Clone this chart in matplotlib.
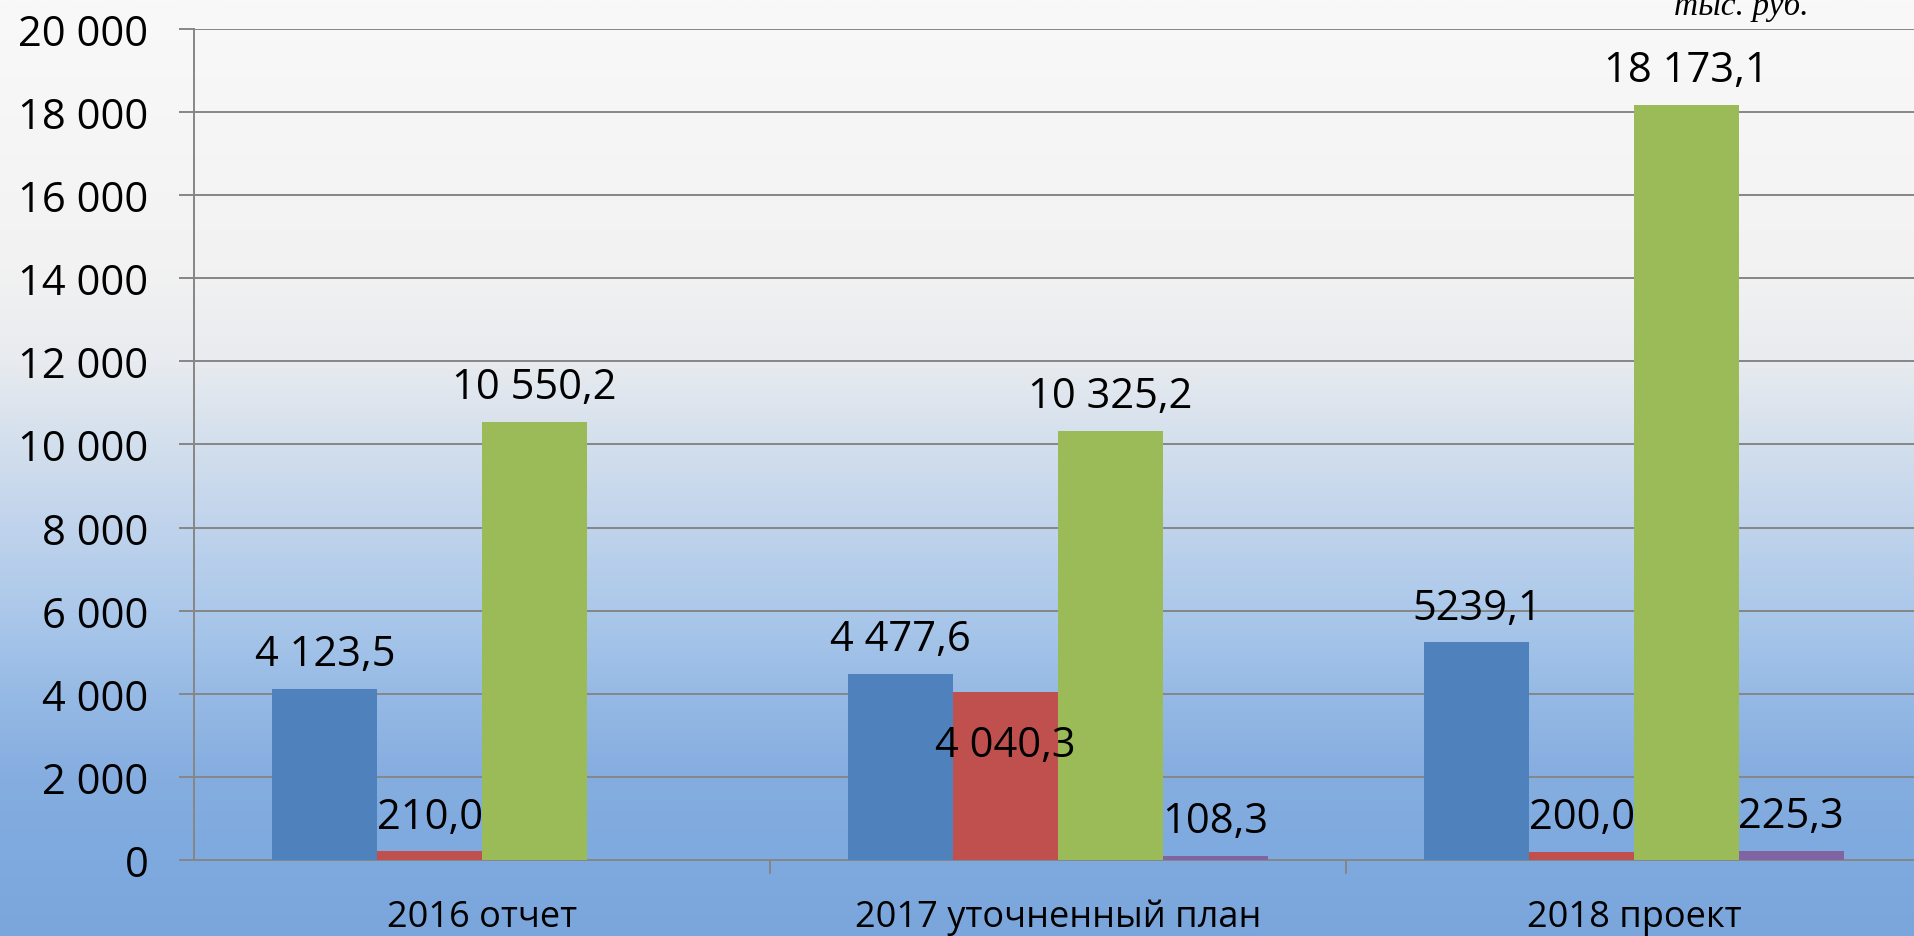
import numpy as np
import matplotlib
matplotlib.use("Agg")
import matplotlib.pyplot as plt
from matplotlib.colors import LinearSegmentedColormap

plt.rcParams['font.family'] = ['Open Sans', 'DejaVu Sans']

categories = ['2016 отчет', '2017 уточненный план', '2018 проект']
series_blue = [4123.5, 4477.6, 5239.1]
series_red = [210.0, 4040.3, 200.0]
series_green = [10550.2, 10325.2, 18173.1]
series_purple = [0.0, 108.3, 225.3]
labels_blue = ['4 123,5', '4 477,6', '5239,1']
labels_red = ['210,0', '4 040,3', '200,0']
labels_green = ['10 550,2', '10 325,2', '18 173,1']
labels_purple = [None, '108,3', '225,3']
yticks = [0, 2000, 4000, 6000, 8000, 10000, 12000, 14000, 16000, 18000, 20000]
ytick_labels = ['0', '2 000', '4 000', '6 000', '8 000', '10 000', '12 000',
                '14 000', '16 000', '18 000', '20 000']
unit_label = 'тыс. руб.'

colors = ['#4f81bd', '#c0504d', '#9bbb59', '#8064a2']
W, H = 1915, 937
fig = plt.figure(figsize=(W / 100, H / 100), dpi=100)

# background gradient
stops = [(0.0, '#f9f9f9'), (270 / H, '#f2f2f2'), (362 / H, '#e8ebef'),
         (445 / H, '#d3dfed'), (529 / H, '#c0d3ec'), (612 / H, '#abc8ea'),
         (696 / H, '#96bae5'), (779 / H, '#85ade0'), (861 / H, '#7eaadf'),
         (1.0, '#7aa6dc')]
cmap = LinearSegmentedColormap.from_list('bg', stops)
bg = fig.add_axes([0, 0, 1, 1], zorder=-5)
grad = np.linspace(0, 1, 512).reshape(-1, 1)
bg.imshow(grad, aspect='auto', cmap=cmap, extent=[0, 1, 1, 0])
bg.set_xlim(0, 1)
bg.set_ylim(1, 0)
bg.axis('off')

left, right, top, bottom = 194, 1922, 30, 861
ax = fig.add_axes([left / W, 1 - bottom / H, (right - left) / W, (bottom - top) / H], zorder=1)
ax.patch.set_alpha(0)

x = np.arange(len(categories))
bw = 0.182
all_series = [series_blue, series_red, series_green, series_purple]
all_labels = [labels_blue, labels_red, labels_green, labels_purple]
offsets = [-1.5, -0.5, 0.5, 1.5]
for s, labs, off, c in zip(all_series, all_labels, offsets, colors):
    xs = x + off * bw
    ax.bar(xs, s, width=bw, color=c, zorder=3)
    for xi, v, lab in zip(xs, s, labs):
        if lab is None:
            continue
        dy = 25
        if lab == '4 040,3':
            dy = -38
        ax.annotate(lab, (xi, v), xytext=(0, dy), textcoords='offset points',
                    ha='center', va='center', fontsize=30, color='black', zorder=5)

ax.set_xlim(-0.5, 2.5)
ax.set_ylim(0, 20000)
ax.set_yticks(yticks)
ax.set_yticklabels(ytick_labels)
ax.set_xticks(x)
ax.set_xticklabels(categories)
ax.set_xticks([0.5, 1.5], minor=True)
ax.tick_params(axis='x', which='major', length=0, pad=28, labelsize=26)
ax.tick_params(axis='x', which='minor', length=10, width=1.4, color='#868686', direction='out')
ax.tick_params(axis='y', length=10.8, width=1.4, color='#868686', pad=22, labelsize=30)
ax.yaxis.grid(True, color='#868686', linewidth=1.4, zorder=0)
ax.set_axisbelow(True)
for sp in ['top', 'right']:
    ax.spines[sp].set_visible(False)
for sp in ['left', 'bottom']:
    ax.spines[sp].set_color('#868686')
    ax.spines[sp].set_linewidth(1.4)

fig.text(1741 / W, 1 - 15 / H, unit_label, ha='center', va='baseline',
         fontsize=24, style='italic', family='Liberation Serif', color='black')

fig.savefig('out.png', dpi=100)
